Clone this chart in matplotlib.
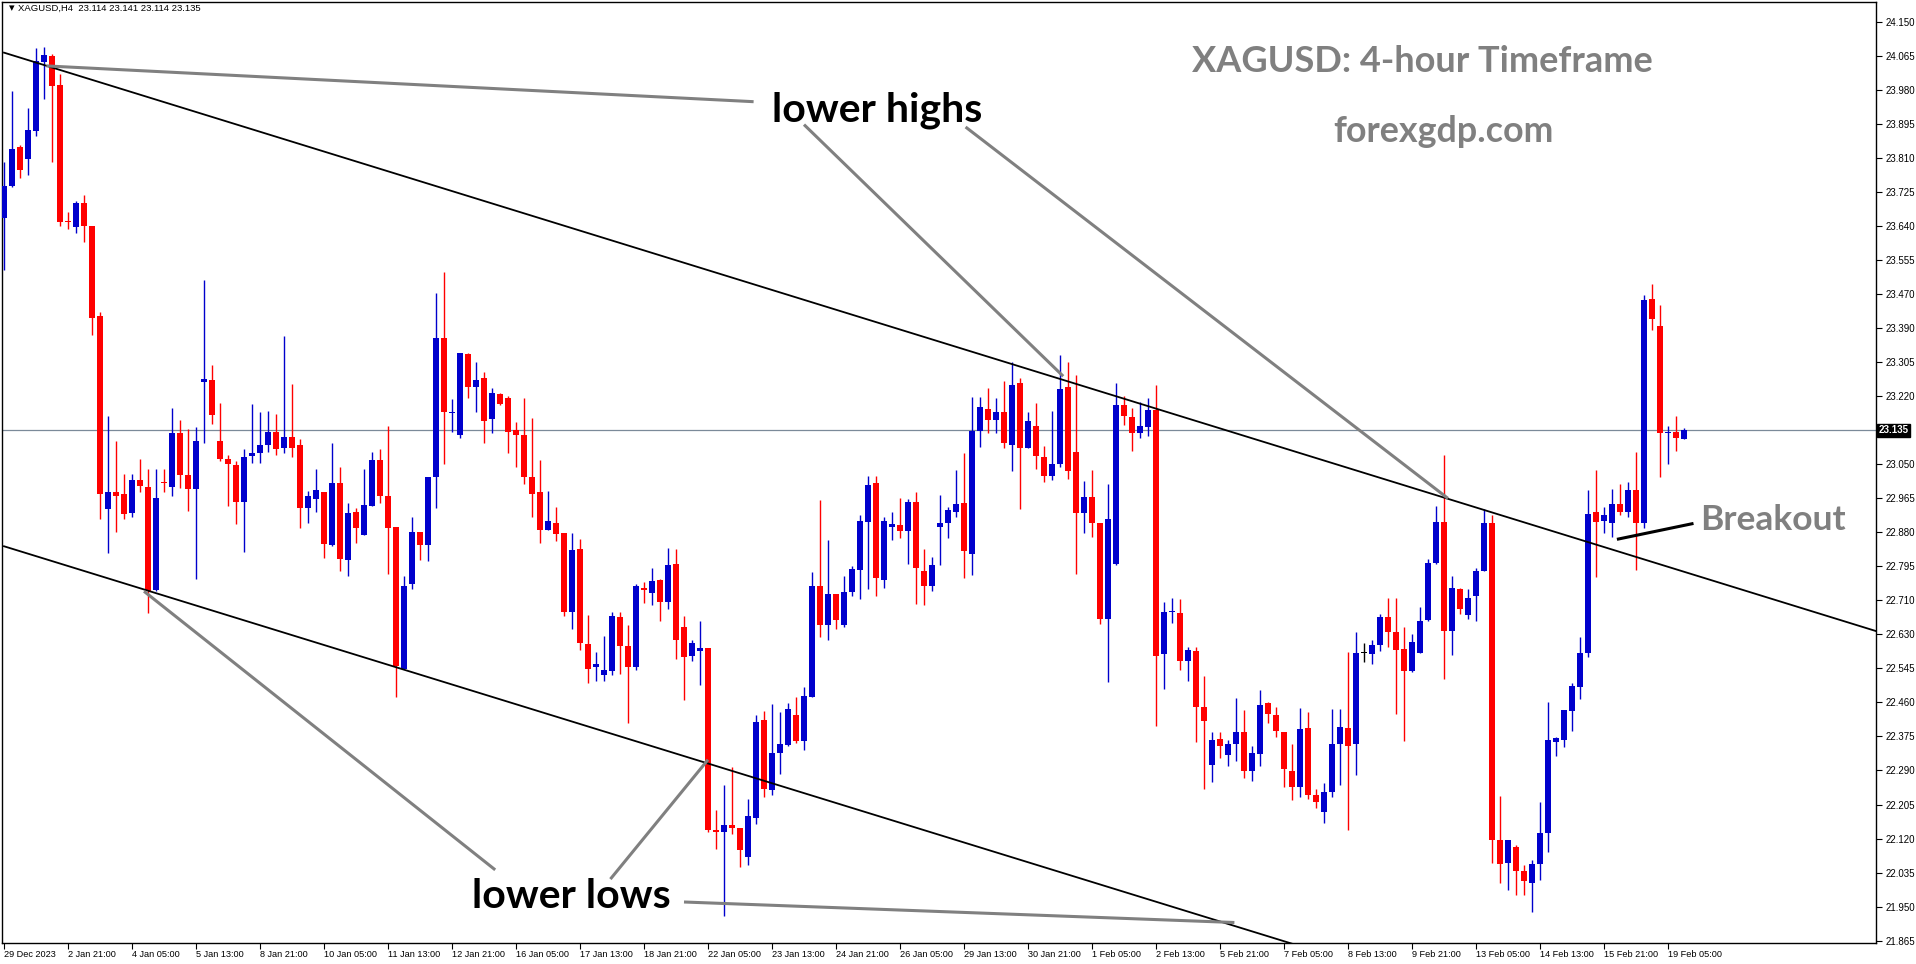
import matplotlib
matplotlib.use('Agg')
import matplotlib.pyplot as plt
import matplotlib.transforms as mtransforms
import numpy as np

# XAGUSD H4 candles (211 bars)
opens = [23.663, 23.743, 23.840, 23.809, 23.878, 24.050, 24.065, 23.993, 23.655, 23.640,
         23.701, 23.643, 23.418, 22.939, 22.980, 22.977, 22.929, 23.012, 22.994, 22.737,
         23.006, 22.994, 23.129, 23.023, 22.989, 23.254, 23.259, 23.109, 23.063, 23.049,
         22.957, 23.071, 23.078, 23.097, 23.130, 23.091, 23.118, 23.097, 22.940, 22.964,
         22.981, 22.849, 23.003, 22.812, 22.931, 22.875, 22.946, 23.060, 22.970, 22.893,
         22.541, 22.751, 22.881, 22.848, 23.018, 23.364, 23.177, 23.124, 23.324, 23.241,
         23.264, 23.163, 23.225, 23.216, 23.134, 23.124, 23.018, 22.980, 22.887, 22.903,
         22.879, 22.683, 22.839, 22.602, 22.546, 22.525, 22.536, 22.671, 22.598, 22.546,
         22.743, 22.729, 22.763, 22.707, 22.802, 22.644, 22.573, 22.585, 22.592, 22.139,
         22.134, 22.153, 22.144, 22.074, 22.169, 22.415, 22.239, 22.332, 22.352, 22.427,
         22.361, 22.471, 22.746, 22.651, 22.727, 22.650, 22.731, 22.786, 22.906, 23.004,
         22.761, 22.893, 22.898, 22.884, 22.955, 22.785, 22.747, 22.895, 22.903, 22.932,
         22.954, 22.826, 23.133, 23.188, 23.159, 23.180, 23.099, 23.253, 23.090, 23.144,
         23.067, 23.020, 23.050, 23.243, 23.080, 22.929, 22.969, 22.903, 22.666, 22.802,
         23.197, 23.167, 23.127, 23.143, 23.184, 22.578, 22.683, 22.680, 22.561, 22.585,
         22.446, 22.302, 22.366, 22.326, 22.354, 22.383, 22.287, 22.329, 22.456, 22.425,
         22.383, 22.288, 22.246, 22.394, 22.227, 22.185, 22.235, 22.354, 22.395, 22.354,
         22.581, 22.578, 22.601, 22.669, 22.632, 22.590, 22.536, 22.580, 22.663, 22.805,
         22.906, 22.635, 22.739, 22.674, 22.722, 22.784, 22.904, 22.116, 22.057, 22.097,
         22.037, 22.008, 22.055, 22.133, 22.360, 22.363, 22.437, 22.495, 22.580, 22.932,
         22.909, 22.904, 22.952, 22.930, 22.986, 22.905, 23.461, 23.393, 23.127, 23.130,
         23.114]
highs = [23.801, 23.978, 23.844, 23.936, 24.085, 24.088, 24.070, 24.021, 23.678, 23.706,
         23.720, 23.643, 23.428, 23.170, 23.107, 23.026, 23.026, 23.064, 23.038, 23.037,
         23.038, 23.190, 23.160, 23.137, 23.143, 23.508, 23.296, 23.203, 23.072, 23.057,
         23.087, 23.200, 23.181, 23.183, 23.175, 23.368, 23.249, 23.112, 22.984, 23.039,
         22.981, 23.103, 23.042, 22.953, 22.940, 23.037, 23.080, 23.089, 23.146, 22.893,
         22.773, 22.918, 22.881, 23.018, 23.477, 23.528, 23.213, 23.328, 23.327, 23.304,
         23.279, 23.239, 23.227, 23.220, 23.154, 23.215, 23.165, 23.060, 22.983, 22.943,
         22.879, 22.879, 22.863, 22.675, 22.584, 22.623, 22.683, 22.683, 22.650, 22.751,
         22.757, 22.793, 22.765, 22.842, 22.840, 22.673, 22.612, 22.661, 22.592, 22.191,
         22.252, 22.298, 22.145, 22.218, 22.425, 22.437, 22.454, 22.433, 22.456, 22.471,
         22.495, 22.783, 22.961, 22.861, 22.727, 22.771, 22.797, 22.923, 23.022, 23.022,
         22.918, 22.931, 22.966, 22.963, 22.980, 22.838, 22.819, 22.974, 22.944, 23.035,
         23.078, 23.217, 23.217, 23.240, 23.215, 23.257, 23.305, 23.265, 23.180, 23.203,
         23.095, 23.183, 23.322, 23.305, 23.272, 23.008, 23.035, 22.903, 23.001, 23.253,
         23.220, 23.189, 23.206, 23.215, 23.248, 22.708, 22.717, 22.714, 22.596, 22.595,
         22.524, 22.383, 22.385, 22.365, 22.468, 22.439, 22.349, 22.488, 22.459, 22.446,
         22.383, 22.354, 22.444, 22.433, 22.243, 22.258, 22.440, 22.440, 22.584, 22.632,
         22.605, 22.612, 22.678, 22.718, 22.718, 22.646, 22.627, 22.695, 22.814, 22.946,
         23.074, 22.773, 22.743, 22.739, 22.793, 22.938, 22.923, 22.225, 22.116, 22.103,
         22.052, 22.065, 22.209, 22.459, 22.372, 22.439, 22.507, 22.620, 22.986, 23.036,
         22.943, 22.989, 23.000, 23.006, 23.081, 23.472, 23.498, 23.447, 23.144, 23.169,
         23.141]
lows = [23.533, 23.740, 23.763, 23.770, 23.867, 23.958, 23.801, 23.643, 23.635, 23.625,
        23.602, 23.371, 22.914, 22.830, 22.882, 22.914, 22.919, 22.980, 22.681, 22.734,
        22.980, 22.971, 22.991, 22.934, 22.765, 23.103, 23.149, 23.057, 22.946, 22.902,
        22.831, 23.054, 23.052, 23.080, 23.072, 23.078, 23.069, 22.891, 22.903, 22.930,
        22.816, 22.846, 22.785, 22.772, 22.855, 22.875, 22.946, 22.954, 22.776, 22.472,
        22.541, 22.739, 22.812, 22.810, 22.942, 23.051, 23.130, 23.116, 23.215, 23.179,
        23.103, 23.127, 23.197, 23.079, 23.043, 23.000, 22.919, 22.855, 22.887, 22.858,
        22.672, 22.640, 22.588, 22.505, 22.512, 22.510, 22.525, 22.527, 22.406, 22.537,
        22.706, 22.699, 22.660, 22.689, 22.565, 22.463, 22.561, 22.502, 22.134, 22.094,
        21.925, 22.129, 22.049, 22.052, 22.154, 22.221, 22.227, 22.280, 22.348, 22.357,
        22.340, 22.471, 22.620, 22.612, 22.640, 22.646, 22.722, 22.716, 22.739, 22.723,
        22.742, 22.861, 22.867, 22.802, 22.703, 22.700, 22.734, 22.799, 22.866, 22.920,
        22.767, 22.775, 23.093, 23.127, 23.129, 23.090, 23.033, 22.938, 23.090, 23.039,
        23.006, 23.010, 23.044, 23.014, 22.776, 22.879, 22.870, 22.652, 22.508, 22.799,
        23.147, 23.084, 23.115, 23.121, 22.400, 22.490, 22.654, 22.538, 22.512, 22.359,
        22.241, 22.259, 22.318, 22.299, 22.312, 22.270, 22.261, 22.299, 22.406, 22.371,
        22.246, 22.214, 22.221, 22.218, 22.195, 22.157, 22.223, 22.253, 22.140, 22.276,
        22.558, 22.552, 22.585, 22.595, 22.429, 22.361, 22.533, 22.580, 22.660, 22.802,
        22.515, 22.575, 22.678, 22.666, 22.661, 22.784, 22.057, 22.009, 21.990, 21.978,
        21.978, 21.935, 22.015, 22.086, 22.323, 22.346, 22.386, 22.467, 22.570, 22.770,
        22.879, 22.870, 22.925, 22.918, 22.786, 22.892, 23.384, 23.019, 23.050, 23.082,
        23.114]
closes = [23.743, 23.834, 23.781, 23.881, 24.054, 24.068, 23.990, 23.652, 23.652, 23.701,
          23.643, 23.415, 22.975, 22.980, 22.971, 22.926, 23.012, 22.997, 22.734, 22.965,
          23.003, 23.127, 23.023, 22.989, 23.107, 23.263, 23.172, 23.063, 23.051, 22.957,
          23.067, 23.077, 23.097, 23.130, 23.089, 23.118, 23.091, 22.940, 22.970, 22.986,
          22.851, 23.003, 22.815, 22.929, 22.891, 22.948, 23.060, 22.971, 22.891, 22.547,
          22.746, 22.881, 22.848, 23.018, 23.364, 23.181, 23.181, 23.328, 23.243, 23.260,
          23.158, 23.227, 23.201, 23.131, 23.124, 23.018, 22.976, 22.887, 22.909, 22.876,
          22.683, 22.836, 22.606, 22.541, 22.554, 22.539, 22.673, 22.597, 22.546, 22.748,
          22.737, 22.760, 22.707, 22.800, 22.612, 22.570, 22.606, 22.592, 22.139, 22.134,
          22.153, 22.144, 22.091, 22.174, 22.409, 22.241, 22.332, 22.355, 22.440, 22.361,
          22.474, 22.746, 22.649, 22.727, 22.663, 22.733, 22.790, 22.910, 22.999, 22.766,
          22.910, 22.901, 22.884, 22.955, 22.793, 22.748, 22.800, 22.904, 22.935, 22.952,
          22.835, 23.133, 23.192, 23.159, 23.180, 23.104, 23.246, 23.090, 23.158, 23.070,
          23.020, 23.050, 23.238, 23.033, 22.929, 22.969, 22.903, 22.666, 22.914, 23.197,
          23.170, 23.127, 23.144, 23.186, 22.572, 22.683, 22.686, 22.561, 22.587, 22.446,
          22.411, 22.364, 22.348, 22.354, 22.383, 22.287, 22.331, 22.452, 22.429, 22.386,
          22.292, 22.246, 22.391, 22.227, 22.209, 22.235, 22.354, 22.397, 22.348, 22.581,
          22.581, 22.601, 22.669, 22.632, 22.589, 22.536, 22.609, 22.660, 22.805, 22.906,
          22.635, 22.743, 22.689, 22.718, 22.785, 22.903, 22.114, 22.055, 22.116, 22.037,
          22.012, 22.055, 22.133, 22.363, 22.369, 22.439, 22.499, 22.581, 22.927, 22.906,
          22.923, 22.952, 22.932, 22.986, 22.905, 23.459, 23.412, 23.127, 23.130, 23.115,
          23.135]

x_labels = ['29 Dec 2023', '2 Jan 21:00', '4 Jan 05:00', '5 Jan 13:00', '8 Jan 21:00',
            '10 Jan 05:00', '11 Jan 13:00', '12 Jan 21:00', '16 Jan 05:00', '17 Jan 13:00',
            '18 Jan 21:00', '22 Jan 05:00', '23 Jan 13:00', '24 Jan 21:00', '26 Jan 05:00',
            '29 Jan 13:00', '30 Jan 21:00', '1 Feb 05:00', '2 Feb 13:00', '5 Feb 21:00',
            '7 Feb 05:00', '8 Feb 13:00', '9 Feb 21:00', '13 Feb 05:00', '14 Feb 13:00',
            '15 Feb 21:00', '19 Feb 05:00']
y_labels = ['21.865', '21.950', '22.035', '22.120', '22.205', '22.290', '22.375', '22.460',
            '22.545', '22.630', '22.710', '22.795', '22.880', '22.965', '23.050', '23.135',
            '23.220', '23.305', '23.390', '23.470', '23.555', '23.640', '23.725', '23.810',
            '23.895', '23.980', '24.065', '24.150']
last_price = 23.135

# trend lines (bar index, price)
upper_channel = ([0, 234], [24.074, 22.635])
lower_channel = ([0, 234], [22.846, 21.409])
gray_lines = [([5.3, 93.7], [24.041, 23.952]),
              ([100.0, 132.4], [23.895, 23.269]),
              ([120.2, 180.5], [23.889, 22.965]),
              ([17.5, 61.4], [22.734, 22.041]),
              ([75.8, 88.0], [22.018, 22.315]),
              ([85.0, 153.8], [21.961, 21.910])]
breakout_arrow = ([201.8, 211.0], [22.864, 22.902])

W, H = 1916, 964
fig = plt.figure(figsize=(W / 100, H / 100), dpi=100)
ax = fig.add_axes([2 / W, 21 / H, 1874 / W, 941 / H])

o = np.array(opens)
h = np.array(highs)
l = np.array(lows)
c = np.array(closes)
x = np.arange(len(o))
colors = np.where(c > o, '#0000cc', np.where(c < o, '#ff0000', '#000000'))

ax.vlines(x, l, h, colors=colors, lw=1.0, zorder=3)
body_h = np.maximum(np.abs(c - o), 0.0028)
body_bot = np.minimum(o, c) - (body_h - np.abs(c - o)) / 2
ax.bar(x, body_h, bottom=body_bot, width=0.66, color=colors, lw=0, zorder=4)

# current price line
ax.axhline(last_price, color='#7b8a99', lw=0.9, zorder=1)

ax.plot(*upper_channel, color='black', lw=1.3, zorder=5)
ax.plot(*lower_channel, color='black', lw=1.3, zorder=5)
for xs, ys in gray_lines:
    ax.plot(xs, ys, color='#808080', lw=2.2, zorder=5, solid_capstyle='butt')
ax.plot(*breakout_arrow, color='black', lw=2.2, zorder=5)

ax.set_xlim(-0.25, 234)
ax.set_ylim(21.859, 24.200)

tick_font = dict(family='Liberation Sans', size=7)
ax.yaxis.tick_right()
ax.set_yticks(np.linspace(21.865, 24.150, len(y_labels)))
ax.set_yticklabels([s if s != '23.135' else '' for s in y_labels], fontdict=tick_font)
ax.set_xticks(range(0, 8 * len(x_labels), 8))
ax.set_xticklabels(x_labels, fontdict=dict(family='Liberation Sans', size=6.6), ha='left')
offset = mtransforms.ScaledTranslation(2 / 100, 0, fig.dpi_scale_trans)
for lab in ax.get_xticklabels():
    lab.set_transform(lab.get_transform() + offset)
ax.tick_params(axis='y', direction='out', length=4, width=0.8, pad=3)
ax.tick_params(axis='x', direction='out', length=4, width=0.8, pad=1)
for sp in ax.spines.values():
    sp.set_linewidth(1.0)
    sp.set_color('black')

# price box on the right axis
trans = mtransforms.blended_transform_factory(ax.transAxes, ax.transData)
ax.text(1.0015, last_price, '23.135', transform=trans, ha='left', va='center',
        fontsize=7, family='Liberation Sans', color='white', fontweight='bold',
        bbox=dict(boxstyle='square,pad=0.15', fc='black', ec='black'), clip_on=False)

# header
fig.text(9 / W, 1 - 8 / H, '▾', fontsize=8, family='DejaVu Sans', va='center')
fig.text(18 / W, 1 - 8 / H, 'XAGUSD,H4  23.114 23.141 23.114 23.135', fontsize=6.8,
         family='Liberation Sans', va='center')

gray = '#808080'
fig.text(1422 / W, 1 - 62 / H, 'XAGUSD: 4-hour Timeframe', fontsize=26, family='Lato',
         fontweight='bold', color=gray, ha='center', va='center')
fig.text(1443 / W, 1 - 131 / H, 'forexgdp.com', fontsize=25.8, family='Lato',
         fontweight='bold', color=gray, ha='center', va='center')
fig.text(877 / W, 1 - 110 / H, 'lower highs', fontsize=29.5, family='Lato',
         fontweight='bold', color='black', ha='center', va='center')
fig.text(571 / W, 1 - 896 / H, 'lower lows', fontsize=29.5, family='Lato',
         fontweight='bold', color='black', ha='center', va='center')
fig.text(1773 / W, 1 - 520 / H, 'Breakout', fontsize=25.5, family='Lato',
         fontweight='bold', color=gray, ha='center', va='center')

fig.savefig('out.png', dpi=100)
